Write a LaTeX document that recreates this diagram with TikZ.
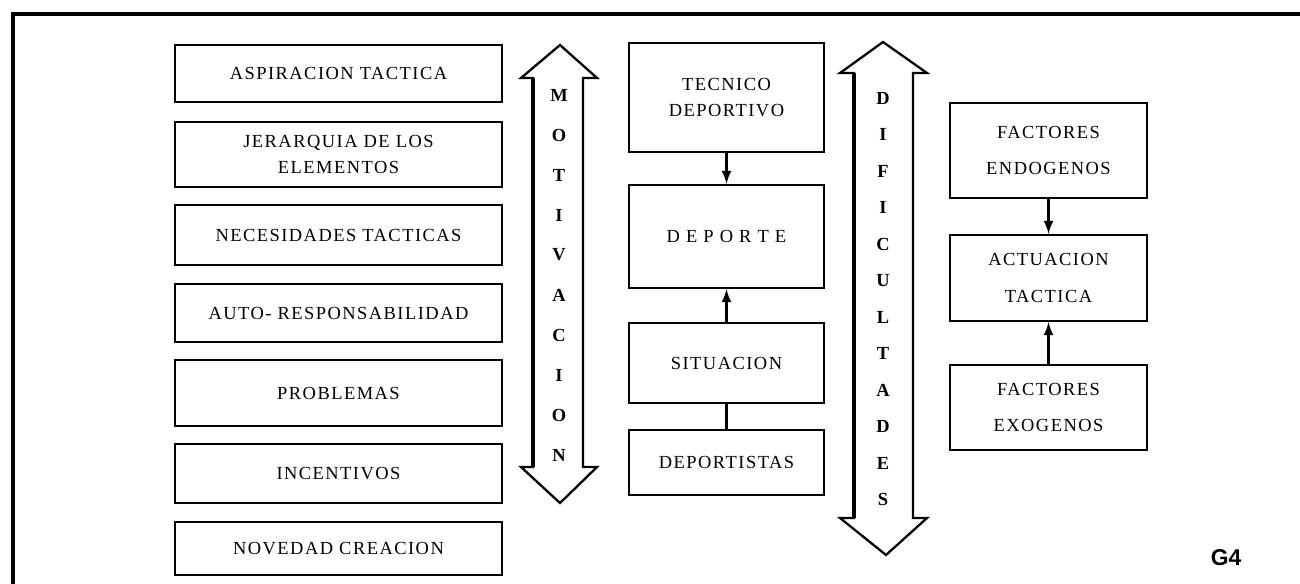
\documentclass[tikz,border=0pt]{standalone}
\usepackage{fontspec}
\setmainfont{Liberation Serif}
\newfontfamily\boxfont[LetterSpace=8]{Liberation Serif}
\newfontfamily\tagfont{Liberation Sans}
\begin{document}
\begin{tikzpicture}[x=0.02cm, y=-0.02cm, >=latex,
  caja/.style={draw, line width=1.4pt, align=center, inner sep=2pt,
    font=\boxfont\fontsize{10.5}{15}\selectfont},
  izq/.style={caja, minimum width=6.54cm},
  cen/.style={caja, minimum width=3.9cm},
  der/.style={caja, minimum width=3.94cm},
  letra/.style={font=\bfseries\fontsize{10.5}{12}\selectfont, inner sep=0pt},
  flecha/.style={line width=1.3pt, line join=miter},
  enlace/.style={line width=1.5pt}]
\useasboundingbox (0,0) rectangle (1300,584);

% marco
\draw[line width=2pt] (1300,14)--(13,14)--(13,584);

% columna izquierda
\node[izq, minimum height=1.14cm] (asp) at (338.5,73.5) {ASPIRACION TACTICA};
\node[izq, minimum height=1.30cm] (jer) at (338.5,154.5) {JERARQUIA DE LOS\\ELEMENTOS};
\node[izq, minimum height=1.20cm] (nec) at (338.5,235) {NECESIDADES TACTICAS};
\node[izq, minimum height=1.16cm] (aut) at (338.5,313) {AUTO- RESPONSABILIDAD};
\node[izq, minimum height=1.32cm] (pro) at (338.5,393) {PROBLEMAS};
\node[izq, minimum height=1.18cm] (inc) at (338.5,473.5) {INCENTIVOS};
\node[izq, minimum height=1.06cm] (nov) at (338.5,548.5) {NOVEDAD CREACION};

% flecha motivacion
\draw[flecha] (533,78)--(521,78)--(560,45)--(597,78)--(583,78)--(583,467)--(597,467)
  --(560,503)--(521,467)--(533,467)--cycle;
\draw[line width=2.2pt] (533,78)--(533,467);
\foreach \l [count=\i] in {M,O,T,I,V,A,C,I,O,N}
  \node[letra] (mot\i) at (559,55+40*\i) {\l};

% columna central
\node[cen, minimum height=2.18cm] (tec) at (726.5,97.5) {TECNICO\\DEPORTIVO};
\node[cen, minimum height=2.06cm] (dep) at (726.5,236.5) {D E P O R T E};
\node[cen, minimum height=1.60cm] (sit) at (726.5,363) {SITUACION};
\node[cen, minimum height=1.30cm] (dtas) at (726.5,462.5) {DEPORTISTAS};

\draw[->, enlace] (tec)--(dep);
\draw[->, enlace] (sit)--(dep);
\draw[enlace] (dtas)--(sit);

% flecha dificultades
\draw[flecha] (854,73)--(840,73)--(883,42)--(927,73)--(913,73)--(913,518)--(927,518)
  --(886,555)--(840,518)--(854,518)--cycle;
\draw[line width=2.2pt] (854,73)--(854,518);
\foreach \l [count=\i] in {D,I,F,I,C,U,L,T,A,D,E,S}
  \node[letra] (dif\i) at (883,61.5+36.5*\i) {\l};

% columna derecha
\node[der, minimum height=1.90cm] (endo) at (1048.5,150.5) {FACTORES\\[6pt]ENDOGENOS};
\node[der, minimum height=1.72cm] (act) at (1048.5,278) {ACTUACION\\[6pt]TACTICA};
\node[der, minimum height=1.70cm] (exo) at (1048.5,407.5) {FACTORES\\[6pt]EXOGENOS};

\draw[->, enlace] (endo)--(act);
\draw[->, enlace] (exo)--(act);

\node[font=\tagfont\bfseries\fontsize{13}{15}\selectfont] (g4) at (1226,558) {G4};
\end{tikzpicture}
\end{document}
